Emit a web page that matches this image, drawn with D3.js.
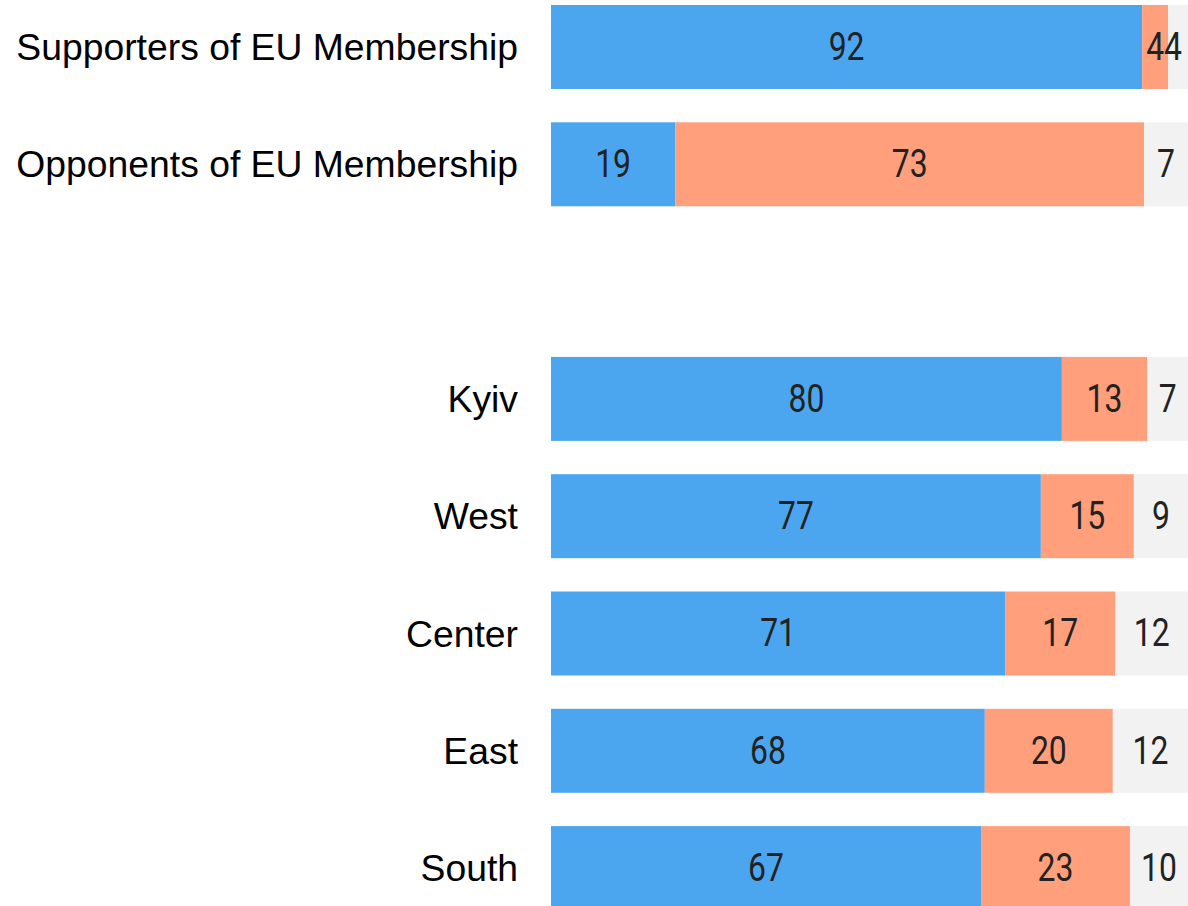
<!DOCTYPE html>
<html><head><meta charset="utf-8">
<script src="https://cdn.jsdelivr.net/npm/d3@7"></script>
<style>html,body{margin:0;padding:0;background:#fff;}svg{display:block;}</style>
</head><body>
<svg id="c" width="1188" height="906"></svg>
<script>
const categories = ["Supporters of EU Membership","Opponents of EU Membership","","Kyiv","West","Center","East","South"];
const support = [92.8, 19.5, null, 80.2, 76.9, 71.3, 68.1, 67.5];
const oppose  = [4.1, 73.6, null, 13.4, 14.6, 17.3, 20.1, 23.4];
const undecided = [3.1, 6.9, null, 6.4, 8.5, 11.4, 11.8, 9.1];
const supportLabels = ["92","19",null,"80","77","71","68","67"];
const opposeLabels = ["4","73",null,"13","15","17","20","23"];
const undecidedLabels = ["4","7",null,"7","9","12","12","10"];

const series = [
  {vals: support, labels: supportLabels, color: "#4CA6EF"},
  {vals: oppose, labels: opposeLabels, color: "#FF9F7C"},
  {vals: undecided, labels: undecidedLabels, color: "#F2F2F2"}
];

const svg = d3.select("#c");
const x = d3.scaleLinear().domain([0,100]).range([551,1188]);
const y = d3.scaleBand().domain(categories.map((c,i)=>i)).range([5, 5+7*117.3+84]).paddingInner(0.284).paddingOuter(0);

const rows = categories.map((c,i)=>({c,i})).filter(d=>support[d.i]!==null);

svg.append("g").selectAll("text").data(rows).join("text")
  .attr("x", 518).attr("y", d=>y(d.i)+y.bandwidth()/2)
  .attr("text-anchor","end").attr("dominant-baseline","central")
  .style("font-family","'Liberation Sans', Arial, sans-serif").style("font-size","37.3px").style("fill","#000")
  .text(d=>d.c);

rows.forEach(r=>{
  let cum = 0;
  series.forEach(s=>{
    const v = s.vals[r.i];
    const x0 = x(cum), x1 = x(cum+v);
    svg.append("rect").attr("x", x0).attr("y", y(r.i)).attr("width", x1-x0).attr("height", y.bandwidth()).attr("fill", s.color);
    cum += v;
  });
  cum = 0;
  series.forEach((s,si)=>{
    const v = s.vals[r.i];
    let cx = (x(cum)+x(cum+v))/2;
    if (si === 2) cx = Math.min(cx, x(100) - 15);
    const cy = y(r.i)+y.bandwidth()/2;
    svg.append("text")
      .attr("transform", `translate(${cx},${cy}) scale(0.84,1)`)
      .attr("text-anchor","middle").attr("dominant-baseline","central")
      .style("font-family","Roboto, sans-serif").style("font-size","38px").style("fill","#222")
      .text(s.labels[r.i]);
    cum += v;
  });
});
</script>
</body></html>
